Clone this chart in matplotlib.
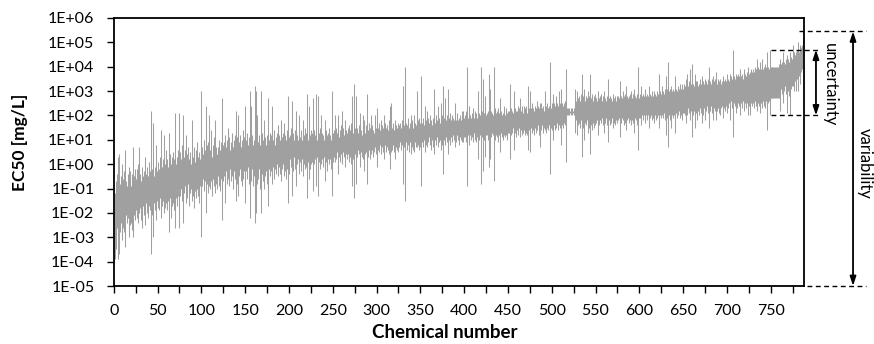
import matplotlib
matplotlib.use("Agg")
import matplotlib.pyplot as plt
import matplotlib.transforms as mtransforms
from matplotlib.ticker import FixedLocator, NullLocator
import numpy as np

# GLOBAL CONSTANTS
FIGSIZE = (8.74, 3.44)
DPI = 100
LINE_COLOR = "#a0a0a0"
TICK_FONTSIZE = 11.5
YLABEL_FONTSIZE = 12.5
XLABEL_FONTSIZE = 13.5
NOTE_FONTSIZE = 12

plt.rcParams["font.family"] = ["Lato", "DejaVu Sans"]

# log10 EC50 [mg/L] per chemical, one row = 25 chemicals
log_ec50_max = [
    -1.2, -0.9, -0.7, -0.4, 0.3, 0.4, -0.8, -0.5, 0.0, -0.9, -0.6, -0.3, 0.6, -0.7, -0.9, -0.4, -0.1, -0.6, -0.3, -0.9, -0.4, 0.7, -0.5, -0.2, -0.6,
    -0.5, -0.2, 0.0, 0.7, -0.4, -0.7, -0.1, -0.5, -0.3, -0.6, 0.3, -0.4, -0.1, -0.5, 0.1, -0.3, 2.2, -0.4, -0.2, 1.7, -0.5, -0.1, 0.8, -0.3, -0.2,
    0.1, -0.2, 0.3, 1.4, -0.1, 0.2, 1.2, 0.0, -0.3, 0.6, 0.2, -0.1, 1.3, 0.4, 0.0, 0.3, -0.1, 0.5, 0.2, 2.1, 0.0, 0.3, 0.6, -0.1, 2.1,
    0.5, 0.2, 0.8, 2.0, 0.3, 0.6, 0.1, 1.2, 0.4, 0.7, 0.2, 0.5, 0.0, 1.8, 0.3, 0.7, 0.4, 0.1, 0.6, 0.9, 0.3, 0.5, 0.2, 0.8, 3.0,
    0.7, 0.4, 1.0, 0.6, 2.4, 0.8, 0.5, 0.9, 2.0, 0.6, 1.4, 0.3, 0.8, 1.1, 0.5, 1.8, 0.7, 0.4, 0.7, 1.0, 0.6, 0.9, 2.7, 0.5, 0.8,
    0.9, 1.2, 0.7, 1.0, 1.5, 0.8, 1.1, 0.6, 0.9, 1.3, 0.7, 1.0, 1.2, 2.2, 0.8, 1.1, 2.0, 0.9, 1.2, 0.7, 1.0, 1.4, 0.8, 1.1, 2.4,
    1.0, 1.3, 0.8, 1.1, 3.0, 0.9, 2.4, 1.2, 0.8, 1.0, 3.2, 3.0, 1.1, 2.0, 0.9, 1.2, 0.8, 3.0, 1.3, 1.0, 0.9, 1.8, 1.1, 0.8, 1.2,
    2.7, 1.0, 1.3, 0.9, 1.2, 2.4, 1.0, 1.4, 0.8, 1.1, 1.3, 1.6, 0.9, 1.2, 1.0, 1.8, 1.1, 1.3, 1.7, 0.9, 1.2, 1.0, 1.4, 2.8, 1.1,
    1.2, 1.5, 2.6, 1.1, 1.3, 1.0, 1.4, 2.2, 1.2, 1.0, 1.3, 2.0, 1.1, 1.4, 1.0, 1.8, 1.2, 1.5, 1.1, 1.3, 2.9, 1.0, 2.4, 1.2, 1.4,
    1.3, 1.1, 2.7, 1.4, 1.2, 2.9, 1.0, 2.8, 1.3, 1.5, 1.1, 2.0, 1.3, 1.2, 1.0, 1.8, 1.4, 1.2, 1.1, 1.3, 1.5, 1.2, 1.0, 3.0, 1.3,
    1.4, 2.0, 1.2, 1.5, 1.3, 2.0, 1.1, 1.4, 1.6, 2.2, 1.3, 1.5, 1.2, 1.8, 1.4, 1.3, 1.5, 1.6, 1.2, 1.4, 1.7, 2.8, 1.3, 3.3, 1.5,
    1.4, 2.8, 1.5, 1.3, 1.6, 2.1, 1.4, 1.2, 2.0, 1.5, 1.8, 1.3, 1.6, 2.9, 1.4, 1.7, 1.3, 1.5, 2.0, 1.6, 1.4, 1.3, 2.0, 1.5, 1.7,
    2.3, 1.5, 1.7, 1.4, 1.8, 1.6, 1.5, 1.4, 2.0, 1.7, 1.5, 1.6, 1.4, 1.8, 2.4, 2.5, 1.6, 1.5, 1.7, 1.4, 1.8, 1.6, 1.5, 1.5, 1.7,
    1.6, 1.7, 1.5, 1.8, 3.2, 1.6, 4.0, 3.9, 1.7, 1.6, 1.9, 1.5, 1.7, 2.0, 1.6, 1.8, 1.5, 2.0, 1.7, 1.6, 3.0, 1.8, 1.6, 1.9, 1.7,
    3.6, 1.7, 1.9, 1.6, 2.4, 1.8, 1.7, 2.2, 1.9, 1.7, 2.0, 1.8, 1.6, 1.9, 1.8, 3.1, 1.7, 2.0, 1.8, 2.4, 1.9, 1.7, 2.5, 1.8, 2.0,
    3.2, 1.9, 2.7, 1.8, 2.0, 1.7, 3.1, 1.9, 2.1, 1.8, 2.0, 1.9, 1.8, 2.5, 2.0, 1.8, 2.1, 1.8, 1.9, 2.0, 1.8, 2.2, 2.0, 2.2, 1.9,
    2.0, 2.2, 4.0, 1.9, 2.1, 2.4, 2.0, 1.9, 2.1, 2.3, 1.9, 2.2, 2.0, 2.1, 1.9, 3.0, 2.1, 2.0, 4.0, 2.2, 2.0, 3.5, 2.1, 2.8, 2.0,
    2.1, 2.2, 3.7, 2.0, 3.1, 2.2, 2.1, 2.0, 4.0, 2.3, 2.1, 2.2, 2.0, 2.3, 2.1, 2.7, 2.2, 2.0, 2.1, 2.4, 2.2, 2.0, 2.3, 2.1, 2.2,
    2.2, 3.3, 2.1, 2.3, 2.2, 2.1, 3.0, 2.3, 2.2, 2.2, 2.4, 2.1, 2.3, 2.7, 2.2, 2.4, 2.1, 2.4, 2.3, 2.2, 2.4, 2.1, 3.2, 2.3, 3.0,
    2.3, 2.4, 2.5, 2.3, 2.2, 2.4, 2.3, 2.6, 2.4, 2.2, 2.3, 2.5, 2.5, 2.3, 2.4, 2.2, 3.0, 2.3, 2.4, 2.5, 2.3, 2.4, 4.2, 2.3, 2.5,
    2.4, 2.9, 2.5, 2.4, 2.8, 2.5, 2.4, 3.0, 2.5, 2.4, 3.1, 2.5, 2.4, 2.5, 2.6, 3.9, 2.3, 2.3, 2.2, 2.3, 2.2, 2.3, 2.3, 2.2, 2.3,
    2.2, 3.1, 2.6, 3.0, 2.7, 2.8, 2.6, 2.9, 3.7, 2.7, 2.8, 3.1, 2.6, 2.8, 2.7, 3.0, 2.6, 2.8, 3.7, 2.7, 2.9, 2.6, 2.8, 2.9, 2.7,
    2.7, 2.6, 3.0, 2.7, 2.8, 2.9, 2.6, 2.7, 2.8, 3.0, 2.7, 2.6, 2.8, 3.5, 2.7, 2.6, 2.8, 2.7, 2.6, 2.9, 2.7, 2.8, 2.6, 2.8, 2.7,
    2.8, 2.7, 3.4, 2.8, 2.7, 3.0, 2.8, 2.7, 2.9, 3.2, 2.8, 2.7, 2.8, 2.9, 3.0, 2.8, 2.7, 2.9, 3.1, 2.8, 2.7, 2.9, 4.0, 2.8, 2.7,
    2.9, 3.2, 2.8, 2.9, 2.8, 3.0, 3.1, 2.8, 2.9, 2.8, 3.2, 2.9, 2.8, 3.0, 2.9, 2.8, 3.0, 2.9, 2.8, 3.0, 2.9, 3.7, 2.9, 3.0, 2.9,
    3.2, 3.0, 2.9, 3.1, 3.6, 3.0, 3.1, 4.2, 3.0, 3.1, 3.2, 3.0, 2.9, 3.1, 3.0, 3.6, 3.1, 3.0, 3.2, 3.1, 3.3, 3.0, 3.1, 3.3, 3.1,
    3.3, 3.2, 3.5, 3.3, 3.7, 3.2, 3.4, 3.9, 3.3, 4.1, 3.3, 3.2, 3.7, 3.3, 3.4, 3.4, 3.2, 3.3, 3.5, 3.3, 3.6, 3.2, 3.4, 3.3, 3.5,
    3.4, 3.3, 3.5, 3.3, 4.0, 3.4, 3.3, 3.5, 3.6, 3.4, 3.5, 3.8, 3.4, 3.3, 3.5, 3.4, 3.5, 3.3, 3.4, 3.6, 3.5, 3.4, 3.5, 3.4, 3.7,
    3.5, 3.4, 3.7, 3.5, 3.6, 3.5, 4.7, 3.6, 3.5, 3.7, 3.6, 3.5, 3.7, 3.6, 3.9, 3.6, 3.7, 3.5, 3.9, 3.6, 3.7, 3.6, 3.8, 4.0, 3.7,
    3.8, 3.7, 3.9, 3.8, 3.9, 3.8, 4.0, 3.9, 4.3, 3.8, 4.0, 3.9, 4.2, 3.9, 4.3, 3.9, 4.0, 3.9, 4.1, 4.0, 4.6, 4.0, 3.9, 4.7, 4.0,
    4.0, 4.0, 4.0, 4.0, 4.0, 4.0, 4.0, 4.0, 4.0, 4.1, 4.3, 4.1, 4.2, 4.6, 4.2, 4.1, 4.3, 4.2, 4.5, 4.3, 4.2, 4.6, 4.4, 4.3, 4.9,
    4.4, 4.6, 4.5, 4.6, 4.7, 5.0, 4.6, 4.9, 4.7, 4.8, 4.9, 5.45,
]
log_ec50_min = [
    -3.9, -3.0, -3.5, -2.6, -3.9, -3.7, -2.8, -2.4, -3.1, -2.6, -2.3, -2.8, -3.4, -2.1, -2.4, -2.2, -3.0, -2.5, -2.0, -2.4, -2.7, -3.0, -2.1, -2.3, -1.9,
    -2.2, -1.9, -2.4, -2.0, -1.8, -2.3, -2.6, -1.7, -2.1, -1.9, -2.5, -1.6, -2.0, -2.2, -1.7, -1.9, -3.7, -1.8, -2.1, -3.0, -1.6, -1.9, -2.3, -1.5, -1.8,
    -1.6, -1.9, -1.4, -2.2, -1.7, -1.5, -2.0, -1.8, -1.3, -1.6, -1.9, -1.5, -2.8, -1.4, -2.2, -1.7, -1.2, -1.6, -1.9, -2.6, -1.4, -1.7, -1.3, -1.8, -2.6,
    -1.3, -1.0, -1.5, -2.4, -1.2, -0.9, -1.6, -1.1, -1.4, -0.8, -1.7, -1.2, -1.0, -1.5, -1.3, -0.9, -1.8, -1.1, -1.4, -1.0, -1.3, -1.6, -0.9, -1.2, -3.0,
    -0.9, -0.6, -1.1, -0.7, -2.0, -0.8, -1.2, -0.5, -0.9, -1.0, -0.7, -1.3, -0.6, -0.9, -0.4, -1.2, -0.8, -1.0, -0.5, -0.9, -1.1, -0.6, -2.3, -0.8, -0.7,
    -0.5, -1.6, -0.3, -0.8, -0.6, -0.4, -0.9, -0.2, -0.7, -0.5, -1.0, -0.3, -0.6, -1.5, -0.4, -0.8, -1.3, -0.5, -0.2, -0.7, -0.9, -0.4, -0.6, -0.3, -1.6,
    -0.3, -0.6, -0.1, -0.8, -2.2, -0.4, -0.7, -0.2, -0.9, -0.5, -2.4, -2.0, -0.3, -0.8, -0.6, -0.2, -1.0, -2.0, -0.4, -0.7, -0.1, -1.0, -0.5, -0.3, -0.8,
    -1.7, -0.2, -0.5, 0.0, -0.3, -0.8, -0.1, -0.6, -0.2, -0.4, 0.0, -0.5, -0.3, -0.1, -0.4, -0.7, -0.2, 0.0, -0.5, -0.3, -0.1, -0.6, -0.2, -1.6, -0.4,
    0.2, -0.1, -1.3, 0.1, -0.3, 0.3, -0.2, -0.9, 0.0, 0.2, -0.4, -0.1, 0.1, -0.3, 0.2, -0.5, 0.0, -0.2, 0.3, -0.1, -1.4, 0.1, -0.6, -0.2, 0.0,
    0.1, 0.3, -1.1, 0.0, 0.2, -0.9, 0.3, -1.3, 0.1, -0.2, 0.4, 0.0, 0.2, -0.1, 0.3, -0.7, 0.1, -0.3, 0.2, 0.4, 0.0, 0.2, -0.2, -1.3, 0.1,
    0.3, 0.1, 0.4, 0.2, 0.5, -0.4, 0.3, 0.1, 0.4, 0.0, 0.2, 0.5, 0.3, -0.1, 0.4, 0.2, 0.4, 0.1, 0.5, 0.3, 0.0, -0.9, 0.2, -1.4, 0.4,
    0.5, -0.8, 0.3, 0.6, 0.4, -0.1, 0.5, 0.3, 0.2, 0.6, -0.3, 0.4, 0.5, -0.8, 0.3, 0.6, 0.2, 0.5, 0.4, 0.6, 0.3, 0.5, 0.7, 0.4, 0.2,
    -0.1, 0.6, 0.5, 0.8, 0.4, 0.7, 0.5, 0.6, 0.2, 0.8, 0.5, 0.7, 0.6, 0.4, -0.2, 0.5, 0.7, 0.6, 0.8, 0.5, 0.2, 0.7, 0.6, 0.8, 0.5,
    0.7, 0.9, 0.6, 0.8, -0.8, 0.7, -1.5, -1.3, 0.9, 0.6, 0.8, 0.5, 0.9, 0.4, 0.7, 0.8, 0.6, 0.5, 0.9, 0.7, 0.7, 0.8, 0.6, 0.9, 0.7,
    -0.9, 0.9, 0.7, 1.0, 0.5, 0.8, 1.0, 0.7, 0.9, 1.1, 0.8, 0.6, 1.0, 0.9, 0.7, 0.4, 1.0, 0.8, 1.1, 0.7, 0.9, 1.0, 0.6, 0.9, 0.8,
    -0.4, 1.0, 0.8, 1.1, 0.9, 1.2, 0.4, 1.0, 0.8, 1.1, 0.9, 1.2, 1.0, 0.7, 1.1, 0.9, 1.2, 1.0, 0.8, 1.1, 1.0, 0.9, 1.2, 0.9, 1.1,
    1.1, 0.9, -0.9, 1.2, 1.0, 0.8, 1.2, 1.0, 1.1, 0.9, 1.3, 1.0, 1.2, 0.9, 1.1, 0.2, 1.0, 1.2, -0.8, 1.1, 0.9, -0.3, 1.0, 0.3, 1.2,
    1.2, 1.0, -0.1, 1.3, 0.2, 1.1, 1.3, 1.2, -0.7, 1.0, 1.2, 1.3, 1.1, 0.9, 1.2, 0.5, 1.3, 1.1, 1.0, 1.2, 1.4, 1.1, 1.2, 1.0, 1.3,
    1.3, 0.2, 1.4, 1.2, 1.3, 1.5, 0.6, 1.3, 1.1, 1.4, 1.2, 1.3, 1.5, 1.1, 1.4, 1.2, 1.3, 1.4, 1.2, 1.5, 1.3, 1.2, 0.6, 1.4, 0.5,
    1.5, 1.3, 1.6, 1.4, 1.2, 1.5, 1.3, 1.4, 1.6, 1.5, 1.2, 0.7, 1.4, 1.6, 1.3, 1.5, 1.4, 1.6, 1.3, 1.5, 1.4, 1.6, -0.4, 1.5, 1.4,
    1.5, 1.0, 1.6, 1.4, 1.5, 1.7, 1.4, 1.6, 1.5, 1.7, 0.8, 1.6, 1.5, 1.7, 1.6, 0.1, 2.0, 2.1, 2.0, 2.0, 2.1, 2.0, 2.0, 2.1, 2.0,
    2.0, 1.3, 1.8, 1.2, 1.6, 1.7, 1.5, 1.8, 0.3, 1.6, 1.5, 1.0, 1.7, 1.6, 1.8, 1.3, 1.7, 1.5, 0.4, 1.6, 1.4, 1.7, 1.5, 1.6, 1.8,
    1.7, 1.8, 1.2, 1.6, 1.8, 1.7, 1.9, 1.6, 1.8, 1.3, 1.7, 1.9, 1.6, 0.9, 1.8, 1.6, 1.8, 1.7, 1.9, 1.5, 1.7, 1.6, 1.8, 1.7, 1.9,
    1.8, 1.9, 1.1, 1.7, 1.9, 1.8, 1.6, 1.9, 1.7, 1.4, 1.8, 1.9, 1.7, 1.8, 1.6, 1.9, 1.8, 1.7, 1.3, 1.9, 1.8, 1.6, 0.6, 1.8, 1.9,
    1.9, 1.6, 2.0, 1.8, 2.0, 1.9, 1.7, 2.0, 1.8, 2.0, 1.5, 1.9, 2.0, 1.8, 2.0, 1.9, 1.7, 2.0, 1.8, 1.9, 2.0, 1.5, 1.8, 2.0, 1.9,
    2.0, 1.9, 2.1, 1.8, 1.2, 2.0, 1.9, 0.7, 2.0, 1.8, 1.5, 2.0, 2.1, 1.9, 2.0, 1.3, 2.1, 1.9, 2.0, 2.2, 1.9, 2.1, 2.0, 1.8, 2.1,
    2.1, 2.0, 1.7, 2.2, 2.0, 2.3, 2.1, 1.8, 2.2, 1.1, 2.0, 2.2, 1.5, 2.3, 2.1, 1.8, 2.2, 2.0, 2.3, 2.1, 1.7, 2.2, 2.0, 2.3, 1.8,
    2.2, 2.4, 2.1, 2.3, 1.5, 2.2, 2.4, 2.1, 1.8, 2.3, 2.2, 1.8, 2.4, 2.2, 2.3, 2.1, 2.0, 2.3, 2.4, 2.2, 1.9, 2.3, 2.2, 2.4, 2.1,
    2.3, 2.5, 1.8, 2.4, 2.6, 2.3, 1.1, 2.5, 2.4, 2.1, 2.6, 2.3, 2.5, 2.4, 2.0, 2.5, 2.3, 2.6, 2.2, 2.4, 2.5, 2.3, 2.5, 2.0, 2.4,
    2.0, 2.5, 2.6, 2.4, 2.5, 2.3, 2.6, 2.4, 2.2, 2.5, 2.6, 2.4, 2.1, 2.5, 2.3, 2.6, 2.4, 2.5, 2.3, 2.6, 1.4, 2.5, 2.6, 2.0, 2.7,
    2.7, 2.7, 2.7, 2.7, 2.7, 2.7, 2.7, 2.7, 2.7, 3.0, 2.2, 3.1, 2.9, 2.5, 3.0, 3.2, 2.9, 3.1, 2.1, 3.0, 2.8, 2.0, 3.1, 3.2, 3.2,
    3.3, 3.0, 3.4, 3.0, 3.5, 3.0, 3.6, 3.3, 3.7, 3.8, 3.9, 3.9,
]

x_ticks = list(range(0, 800, 25))
x_labels = [str(t) if t % 50 == 0 else "" for t in x_ticks]
y_ticks = [10.0 ** k for k in range(-5, 7)]
y_labels = ["1E%+03d" % k for k in range(-5, 7)]
uncertainty_chem = 748  # chemical used to show the uncertainty range

ec50_max = 10 ** np.array(log_ec50_max)
ec50_min = 10 ** np.array(log_ec50_min)
chem = np.arange(1, len(ec50_max) + 1)

fig = plt.figure(figsize=FIGSIZE, dpi=DPI)
ax = fig.add_axes([0.1302, 0.1686, 0.7897, 0.7791])

ax.vlines(chem, ec50_min, ec50_max, colors=LINE_COLOR, linewidth=0.75, zorder=1)

ax.set_yscale("log")
ax.set_ylim(1e-5, 1e6)
ax.set_xlim(0, len(chem) + 1)
ax.yaxis.set_major_locator(FixedLocator(y_ticks))
ax.yaxis.set_minor_locator(NullLocator())
ax.set_yticklabels(y_labels)
ax.set_xticks(x_ticks)
ax.set_xticklabels(x_labels)

for s in ax.spines.values():
    s.set_linewidth(1.3)
    s.set_color("black")
ax.tick_params(axis="both", direction="out", length=5, width=1.0, labelsize=TICK_FONTSIZE)
ax.tick_params(axis="y", pad=9)
ax.tick_params(axis="x", pad=8)

ax.set_ylabel("EC50 [mg/L]", fontsize=YLABEL_FONTSIZE, fontweight="bold")
ax.yaxis.set_label_coords(-0.124, 0.537)
ax.set_xlabel("Chemical number", fontsize=XLABEL_FONTSIZE, fontweight="bold")
ax.xaxis.set_label_coords(0.48, -0.142)

# annotations on the right, x in figure fraction, y in data units
trans = mtransforms.blended_transform_factory(fig.transFigure, ax.transData)
dash = dict(color="black", linewidth=1.0, linestyle=(0, (3.5, 2.5)), clip_on=False, transform=trans)
arrow = dict(arrowstyle="<|-|>,head_length=0.55,head_width=0.18",
             color="black", lw=1.3, shrinkA=0, shrinkB=0)

var_top = ec50_max.max()
var_bot = 1e-5
ax.plot([0.914, 0.991], [var_top, var_top], **dash)
ax.plot([0.923, 0.991], [var_bot, var_bot], **dash)
ax.annotate("", xy=(0.976, var_bot), xytext=(0.976, var_top),
            xycoords=trans, textcoords=trans, arrowprops=arrow)
ax.text(0.9897, 10 ** 0.05, "variability", transform=trans, rotation=-90,
        ha="center", va="center", fontsize=NOTE_FONTSIZE)

unc_top = ec50_max[uncertainty_chem]
unc_bot = ec50_min[uncertainty_chem]
ax.plot([0.882, 0.938], [unc_top, unc_top], **dash)
ax.plot([0.882, 0.938], [unc_bot, unc_bot], **dash)
ax.annotate("", xy=(0.9336, unc_bot), xytext=(0.9336, unc_top),
            xycoords=trans, textcoords=trans, arrowprops=arrow)
ax.text(0.9497, 10 ** 3.25, "uncertainty", transform=trans, rotation=-90,
        ha="center", va="center", fontsize=NOTE_FONTSIZE)

fig.savefig("out.png", dpi=DPI)
